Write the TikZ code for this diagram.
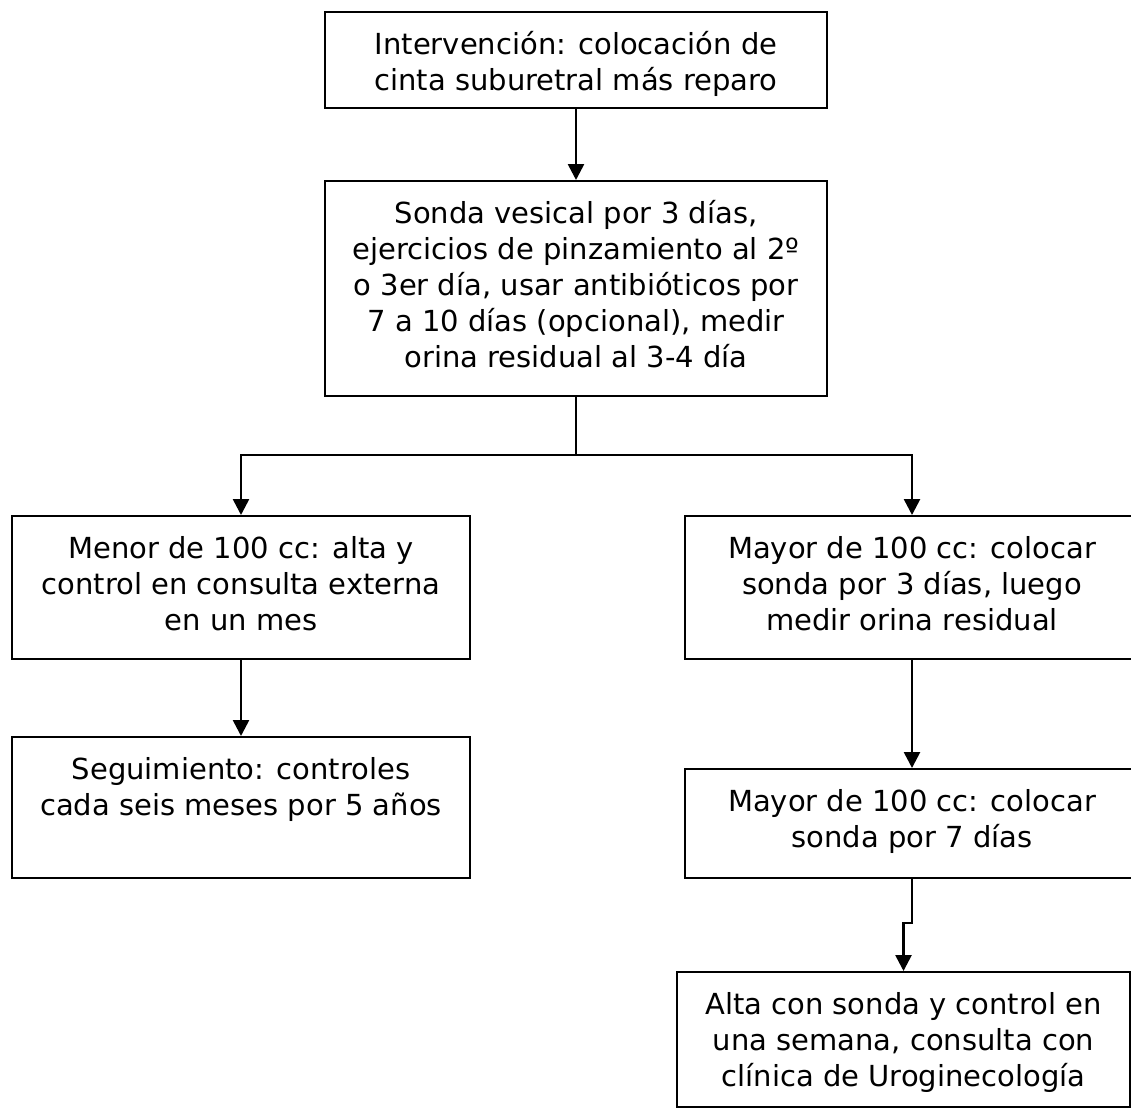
\documentclass[tikz,border=0pt]{standalone}
\usepackage{fontspec}
\setmainfont{DejaVu Sans}
\usetikzlibrary{arrows.meta}

\tikzset{
  stepbox/.style={draw=black, line width=2pt, inner sep=0pt, minimum width=#1},
  label text/.style={inner sep=0pt, anchor=north, align=center,
    font=\fontsize{29}{36}\selectfont},
  link/.style={line width=2.6pt},
  arrowlink/.style={link, -{Triangle[length=16pt,width=16pt]}}
}

% place a box from its top-left corner (x,y) with width w and height h
\newcommand{\flowbox}[6]{%
  \node[stepbox=#4pt, minimum height=#5pt, anchor=north west] (#1) at (#2,#3) {};%
  \node[label text] (t#1) at ([yshift=-18.5pt]#1.north) {\strut#6};%
}

\begin{document}
\begin{tikzpicture}[x=1pt, y=-1pt]
  \clip (0,0) rectangle (1131,1112);
  \fill[white] (0,0) rectangle (1131,1112);

  \flowbox{b1}{324}{11}{502}{96}{Intervención: colocación de\\cinta suburetral más reparo}
  \flowbox{b2}{324}{180}{502}{215}{Sonda vesical por 3 días,\\ejercicios de pinzamiento al 2º\\o 3er día, usar antibióticos por\\7 a 10 días (opcional), medir\\orina residual al 3-4 día}
  \flowbox{b3}{11}{515}{458}{143}{Menor de 100 cc: alta y\\control en consulta externa\\en un mes}
  \flowbox{b4}{684}{515}{454}{143}{Mayor de 100 cc: colocar\\sonda por 3 días, luego\\medir orina residual}
  \flowbox{b5}{11}{736}{458}{141}{Seguimiento: controles\\cada seis meses por 5 años}
  \flowbox{b6}{684}{768}{454}{109}{Mayor de 100 cc: colocar\\sonda por 7 días}
  \flowbox{b7}{676}{971}{453}{135}{Alta con sonda y control en\\una semana, consulta con\\clínica de Uroginecología}

  % connectors
  \draw[arrowlink] (b1.south) -- (b2.north);

  \coordinate (split) at (b2.south |- 0,455);
  \draw[link] (b2.south) -- (split);
  \draw[arrowlink] (split) -| (b3.north);
  \draw[arrowlink] (split) -| (b4.north);

  \draw[arrowlink] (b3.south) -- (b5.north);
  \draw[arrowlink] (b4.south) -- (b6.north);

  \coordinate (kink) at (b6.south |- 0,923);
  \draw[arrowlink] (b6.south) -- (kink) -| (b7.north);
\end{tikzpicture}
\end{document}
